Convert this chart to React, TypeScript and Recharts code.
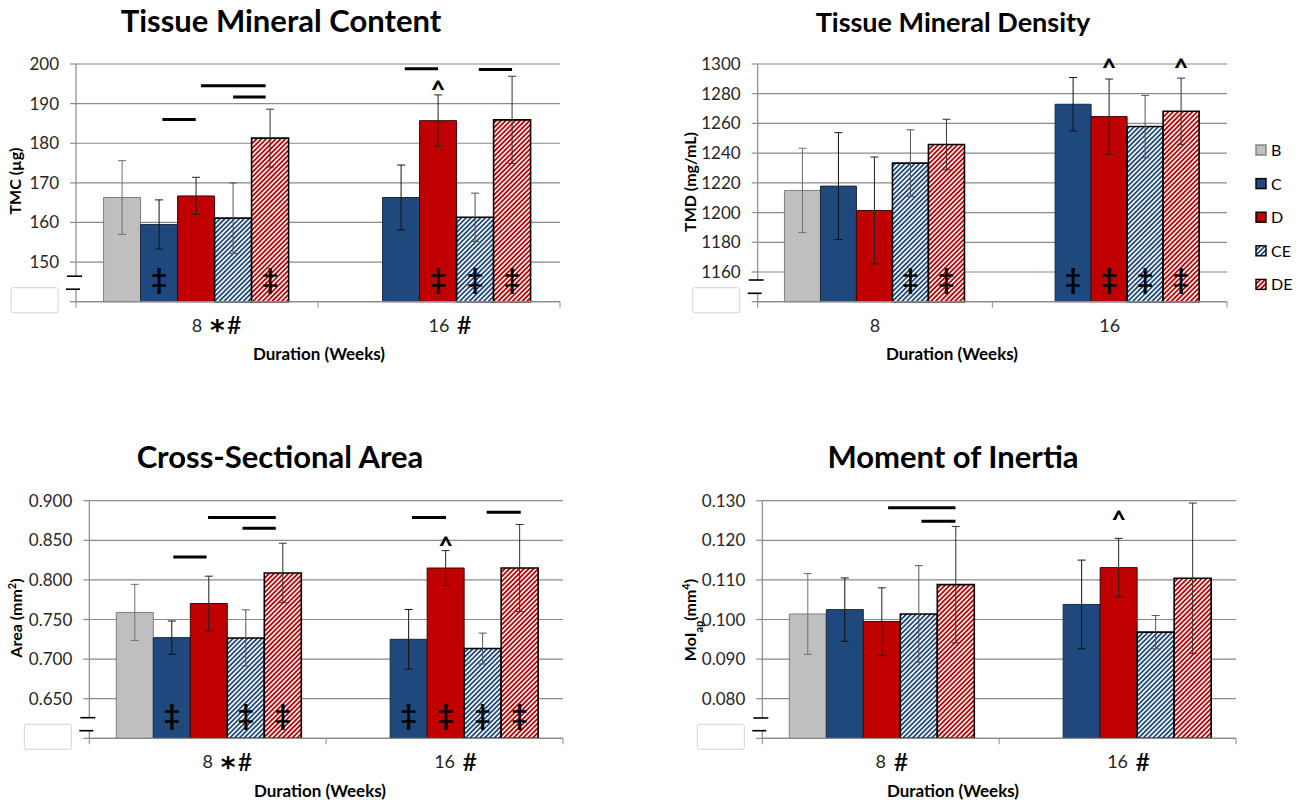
import React from 'react';
import { BarChart, Bar, XAxis, YAxis, CartesianGrid, ErrorBar, LabelList } from 'recharts';

const FONT = 'Lato, "Open Sans", sans-serif';

const weeks = ['8', '16'];
const groups = ['B', 'C', 'D', 'CE', 'DE'];

// Tissue Mineral Content (µg)
const tmcMean8 = [166.3, 159.5, 166.7, 161.1, 181.3];
const tmcErr8 = [9.3, 6.2, 4.7, 8.9, 7.3];
const tmcMean16 = [null, 166.3, 185.7, 161.3, 185.9];
const tmcErr16 = [null, 8.2, 6.5, 6.1, 11.0];
const tmcTicks = [140, 150, 160, 170, 180, 190, 200];
const tmcDagger8 = ['C', 'DE'];
const tmcDagger16 = ['D', 'CE', 'DE'];
const tmcCaret16 = ['D'];
const tmcSig8 = [[1.59, 2.49, 186], [2.63, 4.38, 194.5], [3.5, 4.38, 191.7]];
const tmcSig16 = [[1.6, 2.5, 198.8], [3.6, 4.5, 198.6]];
const tmcSuffix = ['*#', '#'];

// Tissue Mineral Density (mg/mL)
const tmdMean8 = [1214.9, 1217.8, 1201.4, 1233.3, 1245.8];
const tmdErr8 = [28.4, 36, 36, 22.4, 17];
const tmdMean16 = [null, 1272.9, 1264.6, 1257.9, 1268.2];
const tmdErr16 = [null, 18, 25.3, 21, 22.3];
const tmdTicks = [1140, 1160, 1180, 1200, 1220, 1240, 1260, 1280, 1300];
const tmdDagger8 = ['CE', 'DE'];
const tmdDagger16 = ['C', 'D', 'CE', 'DE'];
const tmdCaret16 = ['D', 'DE'];

// Cross-Sectional Area (mm²)
const areaMean8 = [0.7589, 0.7271, 0.7702, 0.7267, 0.8088];
const areaErr8 = [0.0355, 0.021, 0.0345, 0.0355, 0.0375];
const areaMean16 = [null, 0.725, 0.815, 0.7133, 0.815];
const areaErr16 = [null, 0.0377, 0.022, 0.0195, 0.055];
const areaTicks = [0.6, 0.65, 0.7, 0.75, 0.8, 0.85, 0.9];
const areaDagger8 = ['C', 'CE', 'DE'];
const areaDagger16 = ['C', 'D', 'CE', 'DE'];
const areaCaret16 = ['D'];
const areaSig8 = [[1.54, 2.44, 0.829], [2.48, 4.31, 0.8787], [3.41, 4.31, 0.8653]];
const areaSig16 = [[1.59, 2.51, 0.8787], [3.61, 4.53, 0.8854]];
const areaSuffix = ['*#', '#'];

// Moment of Inertia (mm^4)
const moiMean8 = [0.1014, 0.1025, 0.0995, 0.1014, 0.1088];
const moiErr8 = [0.0102, 0.008, 0.0085, 0.0122, 0.0147];
const moiMean16 = [null, 0.1038, 0.1131, 0.0968, 0.1104];
const moiErr16 = [null, 0.0112, 0.0074, 0.0042, 0.019];
const moiTicks = [0.07, 0.08, 0.09, 0.1, 0.11, 0.12, 0.13];
const moiCaret16 = ['D'];
const moiSig8 = [[2.67, 4.49, 0.1282], [3.57, 4.49, 0.1248]];
const moiSuffix = ['#', '#'];

const FILL: Record<string, string> = {
  B: '#BFBFBF',
  C: '#1F497D',
  D: '#C00000',
  CE: 'url(#hatchCE)',
  DE: 'url(#hatchDE)',
};
const STROKE: Record<string, string> = { B: '#7F7F7F', C: '#1b2a40', D: '#3a0a0a', CE: '#000', DE: '#000' };
const STROKEW: Record<string, number> = { B: 1, C: 1, D: 1, CE: 1.6, DE: 1.6 };
const ERRC: Record<string, string> = { B: '#6f6f6f', C: '#111', D: '#222', CE: '#555', DE: '#333' };

function buildRows(m8: any[], e8: any[], m16: any[], e16: any[]) {
  return weeks.map((w, i) => {
    const m = i === 0 ? m8 : m16;
    const e = i === 0 ? e8 : e16;
    const row: any = { week: w };
    groups.forEach((g, j) => {
      row[g] = m[j];
      row[g + 'err'] = e[j];
    });
    return row;
  });
}

type Cfg = {
  rows: any[];
  domain: [number, number];
  ticks: number[];
  fmt: (v: number) => string;
  x0: number; x1: number; y0: number; y1: number;
  daggers: string[][];
  carets: string[][];
  caretLevel: number;
  sigs: number[][][];
  suffix: string[];
  brk: [number, number];
};

const GRID = '#8a8a8a';

function makeYTick(cfg: Cfg) {
  return (props: any) => {
    const { x, y, payload } = props;
    const v = payload.value;
    if (Math.abs(v - cfg.domain[0]) < 1e-9) {
      const ax = cfg.x0;
      return (
        <g>
          <rect x={ax - 65} y={y - 14} width={47} height={25} rx={2} fill="#fff" stroke="#d4d4d4" strokeWidth={1} />
          <rect x={ax - 10} y={y + cfg.brk[0]} width={16} height={cfg.brk[1] - cfg.brk[0]} rx={2} fill="#fff" stroke="none" />
          <line x1={ax - 9} x2={ax + 6} y1={y + cfg.brk[0]} y2={y + cfg.brk[0]} stroke="#000" strokeWidth={1.6} />
          <line x1={ax - 10} x2={ax + 4} y1={y + cfg.brk[1]} y2={y + cfg.brk[1]} stroke="#000" strokeWidth={1.6} />
        </g>
      );
    }
    return (
      <text x={x} y={y} dy={6} textAnchor="end" fontSize={17} fontFamily={FONT} fill="#262626">
        {cfg.fmt(v)}
      </text>
    );
  };
}

function makeXTick(cfg: Cfg) {
  return (props: any) => {
    const { x, payload, index } = props;
    const bw = (cfg.x1 - cfg.x0) / 2;
    const label = String(payload.value);
    const suffix = cfg.suffix[index] || '';
    const cy = cfg.y1 + 23.5;
    const half = label.length * 5;
    const sx = x + half + 8;
    const hasStar = suffix.indexOf('*') >= 0;
    const hasHash = suffix.indexOf('#') >= 0;
    const isLast = index === cfg.rows.length - 1;
    return (
      <g>
        <line x1={x - bw / 2} x2={x - bw / 2} y1={cfg.y1} y2={cfg.y1 + 6} stroke={GRID} />
        {isLast && <line x1={x + bw / 2} x2={x + bw / 2} y1={cfg.y1} y2={cfg.y1 + 6} stroke={GRID} />}
        <text x={x} y={cy + 6.5} textAnchor="middle" fontSize={18} fontFamily={FONT} fill="#262626">{label}</text>
        {hasStar && (
          <text x={sx} y={cy + 15} fontSize={28} fontWeight={700} fontFamily='"DejaVu Sans", sans-serif' fill="#000">*</text>
        )}
        {hasHash && (
          <text x={sx + (hasStar ? 17 : 0)} y={cy + 9} fontSize={25} fontWeight={500} fontFamily={FONT} fill="#000">#</text>
        )}
      </g>
    );
  };
}

function makeAnnot(cfg: Cfg) {
  return (props: any) => {
    const vb = props.viewBox || props;
    const x = vb.x ?? props.x;
    const y = vb.y ?? props.y;
    const width = vb.width ?? props.width;
    const height = vb.height ?? props.height;
    const index = props.index;
    const row = cfg.rows[index];
    if (!row || x == null) return null;
    const value = row.DE;
    const dmin = cfg.domain[0];
    const bottom = y + height;
    const ppu = height / (value - dmin);
    const toY = (v: number) => bottom - (v - dmin) * ppu;
    const bl = x - 4 * width;
    const cx = (g: string) => bl + (groups.indexOf(g) + 0.5) * width;
    return (
      <g>
        {(cfg.daggers[index] || []).map((g) => (
          <text key={'d' + g} x={cx(g)} y={bottom - 13} textAnchor="middle" fontSize={28} fontWeight={700} fontFamily={FONT} fill="#000">‡</text>
        ))}
        {(cfg.carets[index] || []).map((g) => (
          <text key={'c' + g} x={cx(g)} y={toY(cfg.caretLevel) + 15} textAnchor="middle" fontSize={25} fontWeight={900} fontFamily={FONT} fill="#000">^</text>
        ))}
        {(cfg.sigs[index] || []).map((s, k) => (
          <line key={'s' + k} x1={bl + s[0] * width} x2={bl + s[1] * width} y1={toY(s[2])} y2={toY(s[2])} stroke="#000" strokeWidth={3} />
        ))}
      </g>
    );
  };
}

function Panel({ cfg }: { cfg: Cfg }) {
  const W = 1306;
  const H = 803;
  return (
    <div style={{ position: 'absolute', left: 0, top: 0, width: W, height: H }}>
      <BarChart
        width={W}
        height={H}
        data={cfg.rows}
        margin={{ top: cfg.y0, left: cfg.x0 - 80, right: W - cfg.x1, bottom: H - cfg.y1 - 40 }}
        barCategoryGap="11.4%"
        barGap={0}
      >
        <CartesianGrid vertical={false} stroke={GRID} strokeWidth={1.2} />
        <XAxis
          dataKey="week"
          height={40}
          axisLine={{ stroke: GRID, strokeWidth: 1.2 }}
          tickLine={false}
          interval={0}
          tick={makeXTick(cfg)}
        />
        <YAxis
          type="number"
          width={80}
          domain={cfg.domain}
          ticks={cfg.ticks}
          interval={0}
          axisLine={{ stroke: GRID, strokeWidth: 1.2 }}
          tickLine={{ stroke: GRID, strokeWidth: 1.2 }}
          tickSize={6}
          tickMargin={11}
          tick={makeYTick(cfg)}
        />
        {groups.map((g) => (
          <Bar key={g} dataKey={g} fill={FILL[g]} stroke={STROKE[g]} strokeWidth={STROKEW[g]} isAnimationActive={false}>
            <ErrorBar dataKey={g + 'err'} width={4} stroke={ERRC[g]} strokeWidth={1} />
            {g === 'DE' && <LabelList dataKey="DE" content={makeAnnot(cfg)} />}
          </Bar>
        ))}
      </BarChart>
    </div>
  );
}

const fmt0 = (v: number) => String(v);
const fmt3 = (v: number) => v.toFixed(3);

const tmcCfg: Cfg = {
  rows: buildRows(tmcMean8, tmcErr8, tmcMean16, tmcErr16),
  domain: [140, 200], ticks: tmcTicks, fmt: fmt0,
  x0: 76, x1: 560, y0: 64, y1: 301.7,
  daggers: [tmcDagger8, tmcDagger16], carets: [[], tmcCaret16], caretLevel: 195.2,
  sigs: [tmcSig8, tmcSig16], suffix: tmcSuffix, brk: [-25.5, -12.5],
};
const tmdCfg: Cfg = {
  rows: buildRows(tmdMean8, tmdErr8, tmdMean16, tmdErr16),
  domain: [1140, 1300], ticks: tmdTicks, fmt: fmt0,
  x0: 757.7, x1: 1227, y0: 64, y1: 301.7,
  daggers: [tmdDagger8, tmdDagger16], carets: [[], tmdCaret16], caretLevel: 1301.7,
  sigs: [[], []], suffix: ['', ''], brk: [-21.7, -8.4],
};
const areaCfg: Cfg = {
  rows: buildRows(areaMean8, areaErr8, areaMean16, areaErr16),
  domain: [0.6, 0.9], ticks: areaTicks, fmt: fmt3,
  x0: 89.3, x1: 563, y0: 500.7, y1: 738.3,
  daggers: [areaDagger8, areaDagger16], carets: [[], areaCaret16], caretLevel: 0.8519,
  sigs: [areaSig8, areaSig16], suffix: areaSuffix, brk: [-20.6, -7.6],
};
const moiCfg: Cfg = {
  rows: buildRows(moiMean8, moiErr8, moiMean16, moiErr16),
  domain: [0.07, 0.13], ticks: moiTicks, fmt: fmt3,
  x0: 762.3, x1: 1236, y0: 500.7, y1: 738.3,
  daggers: [[], []], carets: [[], moiCaret16], caretLevel: 0.1269,
  sigs: [moiSig8, []], suffix: moiSuffix, brk: [-20.3, -7.6],
};

const titles = [
  { text: 'Tissue Mineral Content', x: 281, y: 32, size: 31 },
  { text: 'Tissue Mineral Density', x: 953, y: 32, size: 27 },
  { text: 'Cross-Sectional Area', x: 280, y: 468, size: 31 },
  { text: 'Moment of Inertia', x: 953, y: 468, size: 31 },
];
const xTitles = [
  { x: 319, y: 360 },
  { x: 952, y: 360 },
  { x: 320, y: 797 },
  { x: 953, y: 797 },
];

function Overlay() {
  const lbl = { fontFamily: FONT, fontWeight: 700, fontSize: 17, fill: '#000' } as any;
  const ylbl = { fontFamily: FONT, fontWeight: 700, fontSize: 16, fill: '#000' } as any;
  return (
    <svg width={1306} height={803} style={{ position: 'absolute', left: 0, top: 0, pointerEvents: 'none' }}>
      {titles.map((t) => (
        <text key={t.text} x={t.x} y={t.y} textAnchor="middle" fontFamily={FONT} fontWeight={700} fontSize={t.size} fill="#000">{t.text}</text>
      ))}
      {xTitles.map((t, i) => (
        <text key={i} x={t.x} y={t.y} textAnchor="middle" {...lbl}>Duration (Weeks)</text>
      ))}
      <text x={21} y={181} textAnchor="middle" transform="rotate(-90 21 181)" {...ylbl}>TMC (µg)</text>
      <text x={696} y={182} textAnchor="middle" transform="rotate(-90 696 182)" {...ylbl}>TMD (mg/mL)</text>
      <text x={22} y={618} textAnchor="middle" transform="rotate(-90 22 618)" {...ylbl}>
        Area (mm<tspan baselineShift="super" fontSize={11}>2</tspan>)
      </text>
      <text x={696} y={620} textAnchor="middle" transform="rotate(-90 696 620)" {...ylbl}>
        MoI<tspan baselineShift="sub" fontSize={11}>ap</tspan>(mm<tspan baselineShift="super" fontSize={11}>4</tspan>)
      </text>
      {groups.map((g, i) => (
        <g key={g}>
          <rect x={1256} y={145 + i * 33.6} width={10} height={10} fill={FILL[g]} stroke={g === 'B' ? '#7F7F7F' : '#000'} strokeWidth={1.4} />
          <text x={1271} y={156 + i * 33.6} fontFamily={FONT} fontSize={16} fill="#000">{g}</text>
        </g>
      ))}
    </svg>
  );
}

export default function App() {
  return (
    <div style={{ position: 'absolute', left: 0, top: 0, width: 1306, height: 803, background: '#fff' }}>
      <svg width={0} height={0} style={{ position: 'absolute' }}>
        <defs>
          <pattern id="hatchCE" patternUnits="userSpaceOnUse" width={3.4} height={3.4} patternTransform="rotate(45)">
            <rect width={3.4} height={3.4} fill="#fff" />
            <rect width={1.8} height={3.4} fill="#1F497D" />
          </pattern>
          <pattern id="hatchDE" patternUnits="userSpaceOnUse" width={3.4} height={3.4} patternTransform="rotate(45)">
            <rect width={3.4} height={3.4} fill="#fff" />
            <rect width={1.8} height={3.4} fill="#C00000" />
          </pattern>
        </defs>
      </svg>
      <Panel cfg={tmcCfg} />
      <Panel cfg={tmdCfg} />
      <Panel cfg={areaCfg} />
      <Panel cfg={moiCfg} />
      <Overlay />
    </div>
  );
}
